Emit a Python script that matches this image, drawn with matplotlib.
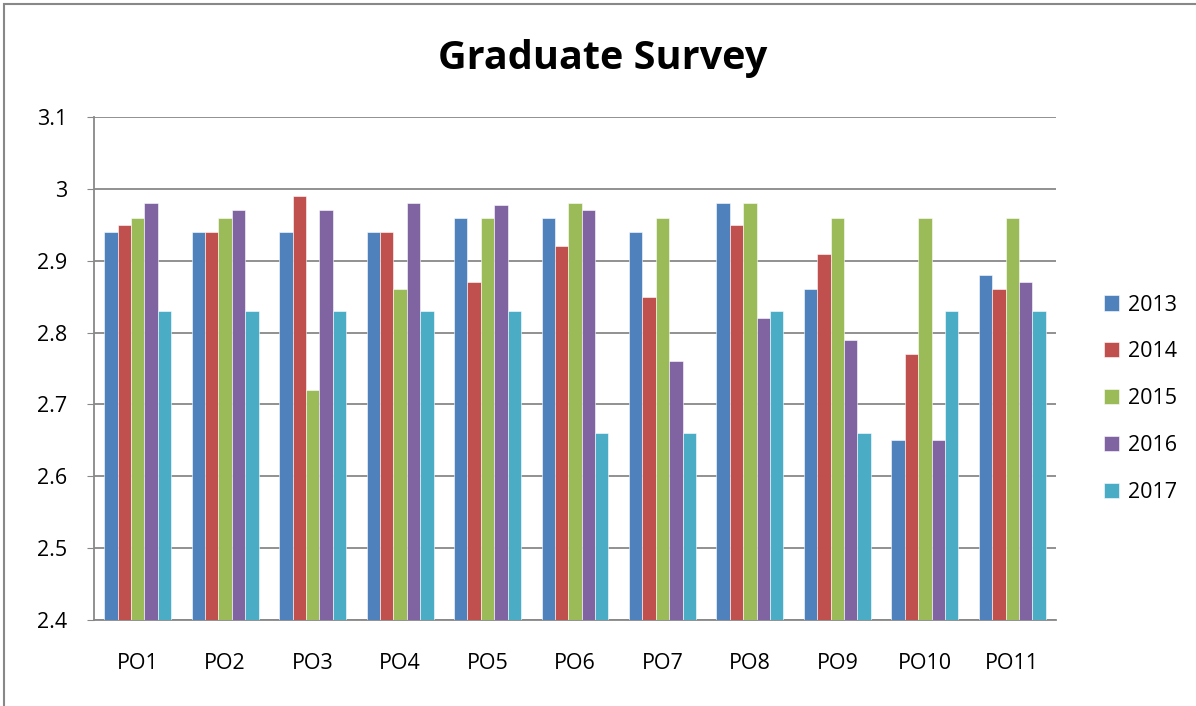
import numpy as np
import matplotlib.pyplot as plt
from matplotlib.patches import Rectangle

categories = ['PO1', 'PO2', 'PO3', 'PO4', 'PO5', 'PO6', 'PO7', 'PO8', 'PO9', 'PO10', 'PO11']
years = ['2013', '2014', '2015', '2016', '2017']
y2013 = [2.94, 2.94, 2.94, 2.94, 2.96, 2.96, 2.94, 2.98, 2.86, 2.65, 2.88]
y2014 = [2.95, 2.94, 2.99, 2.94, 2.87, 2.92, 2.85, 2.95, 2.91, 2.77, 2.86]
y2015 = [2.96, 2.96, 2.72, 2.86, 2.96, 2.98, 2.96, 2.98, 2.96, 2.96, 2.96]
y2016 = [2.98, 2.97, 2.97, 2.98, 2.978, 2.97, 2.76, 2.82, 2.79, 2.65, 2.87]
y2017 = [2.83, 2.83, 2.83, 2.83, 2.83, 2.66, 2.66, 2.83, 2.66, 2.83, 2.83]
colors = ['#4F81BD', '#C0504D', '#9BBB59', '#8064A2', '#4BACC6']

plt.rcParams['font.family'] = ['Open Sans', 'DejaVu Sans']

fig = plt.figure(figsize=(11.96, 7.06), dpi=100)
fig.patches.append(Rectangle((4/1196, -0.1), 1.2, 1.1 - 4/706, transform=fig.transFigure,
                             fill=False, edgecolor='#888888', linewidth=1.5))
ax = fig.add_axes([94/1196, 1 - 620/706, (1056-94)/1196, (620-117)/706])

x = np.arange(len(categories))
w = 0.153
series = [y2013, y2014, y2015, y2016, y2017]
for i, (yr, vals) in enumerate(zip(years, series)):
    ax.bar(x + (i - 2) * w, np.array(vals) - 2.4, bottom=2.4, width=w, color=colors[i],
           edgecolor='white', linewidth=0.4, label=yr, zorder=3)

ax.set_xlim(-0.5, len(categories) - 0.5)
ax.set_ylim(2.4, 3.1)
ax.set_yticks([2.4, 2.5, 2.6, 2.7, 2.8, 2.9, 3.0, 3.1])
ax.set_yticklabels(['2.4', '2.5', '2.6', '2.7', '2.8', '2.9', '3', '3.1'], fontsize=15.5)
ax.set_xticks(x)
ax.set_xticklabels(categories, fontsize=15.5)
ax.tick_params(axis='x', length=0, pad=24)
ax.tick_params(axis='y', length=5, color='#888888', pad=14)
ax.yaxis.grid(True, color='#888888', linewidth=1.3, zorder=0)
for s in ['top', 'right']:
    ax.spines[s].set_visible(False)
for s in ['left', 'bottom']:
    ax.spines[s].set_color('#888888')
    ax.spines[s].set_linewidth(1.3)

fig.text(603/1196, 1 - 58/706, 'Graduate Survey', fontsize=28.5, fontweight='bold',
         ha='center', va='center')

ax.legend(loc='center left', bbox_to_anchor=(1.03, 0.44), frameon=False, fontsize=15.5,
          handlelength=0.7, handleheight=0.7, labelspacing=1.2, handletextpad=0.4)

fig.savefig('out.png', dpi=100)
